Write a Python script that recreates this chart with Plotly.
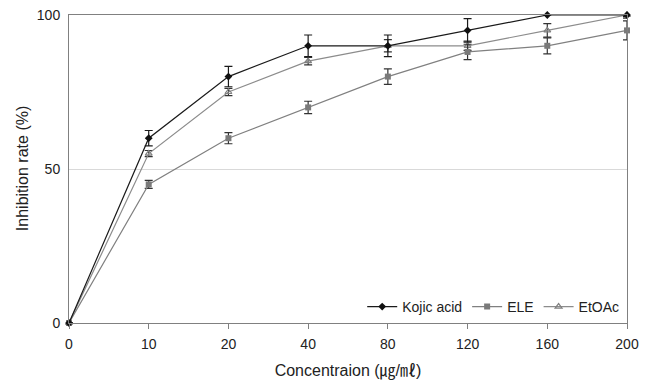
import plotly.graph_objects as go

categories = ["0", "10", "20", "40", "80", "120", "160", "200"]
kojic = [0, 60, 80, 90, 90, 95, 100, 100]
kojic_err = [0, 2.5, 3.3, 3.5, 3.5, 3.8, 0, 0.5]
ele = [0, 45, 60, 70, 80, 88, 90, 95]
ele_err = [0, 1.3, 1.8, 2.0, 2.5, 2.5, 2.6, 3.1]
etoac = [0, 55, 75, 85, 90, 90, 95, 100]
etoac_err = [0, 1.0, 1.2, 1.2, 2.0, 1.5, 2.2, 1.0]

xs = list(range(len(categories)))
font = "Liberation Sans, Arial, Noto Sans CJK KR, sans-serif"

fig = go.Figure()
fig.add_trace(go.Scatter(
    x=xs, y=etoac, name="EtOAc", mode="lines+markers",
    line=dict(color="#8c8c8c", width=1.2),
    marker=dict(symbol="triangle-up-open", size=6, color="#808080", line=dict(width=1.2)),
    error_y=dict(type="data", array=etoac_err, visible=True, color="#333333", thickness=1.2, width=4),
    cliponaxis=False,
))
fig.add_trace(go.Scatter(
    x=xs, y=ele, name="ELE", mode="lines+markers",
    line=dict(color="#808080", width=1.2),
    marker=dict(symbol="square", size=6, color="#7a7a7a"),
    error_y=dict(type="data", array=ele_err, visible=True, color="#333333", thickness=1.2, width=4),
    cliponaxis=False,
))
fig.add_trace(go.Scatter(
    x=xs, y=kojic, name="Kojic acid", mode="lines+markers",
    line=dict(color="#1a1a1a", width=1.2),
    marker=dict(symbol="diamond", size=6, color="#111111"),
    error_y=dict(type="data", array=kojic_err, visible=True, color="#1a1a1a", thickness=1.2, width=4),
    cliponaxis=False,
))

fig.update_layout(
    width=652, height=385,
    margin=dict(l=61, r=33, t=7, b=70, autoexpand=False),
    paper_bgcolor="white", plot_bgcolor="white",
    font=dict(family=font, size=14, color="#222222"),
    showlegend=True,
    legend=dict(
        orientation="h", x=0.995, y=0.0, xanchor="right", yanchor="bottom",
        traceorder="reversed", font=dict(size=14, color="#222222"),
        bgcolor="rgba(0,0,0,0)", itemwidth=30,
    ),
    xaxis=dict(
        range=[0, 7], tickmode="array", tickvals=xs, ticktext=categories,
        showgrid=False, zeroline=False, showline=True, linecolor="#808080", linewidth=1,
        mirror=True, ticks="outside", ticklen=5, tickcolor="#808080", automargin=False,
        ticklabelstandoff=3, ticklabeloverflow="allow",
        title=dict(text="Concentraion (㎍/㎖)", font=dict(size=16, color="#222222"), standoff=14),
        tickfont=dict(size=14),
    ),
    yaxis=dict(
        range=[0, 100], tickvals=[0, 50, 100],
        showgrid=True, gridcolor="#d9d9d9", gridwidth=1, zeroline=False,
        showline=True, linecolor="#808080", linewidth=1, mirror=True, automargin=False,
        ticks="", ticklabelstandoff=5, ticklabeloverflow="allow",
        tickfont=dict(size=14),
    ),
    annotations=[dict(
        text="Inhibition rate (%)", xref="paper", yref="paper",
        x=-0.084, y=0.5, xanchor="center", yanchor="middle", textangle=-90,
        showarrow=False, font=dict(size=16, color="#222222"),
    )],
)

fig.write_html("out.html")
